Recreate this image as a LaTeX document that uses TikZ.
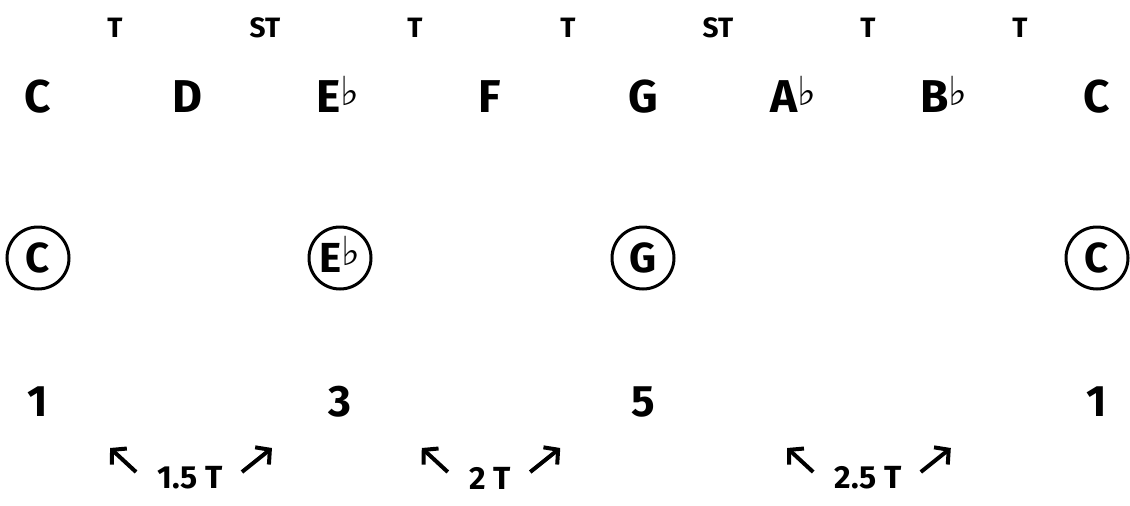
\documentclass[tikz,border=0pt]{standalone}
\usepackage{fontspec}
\setmainfont{Fira Sans}
\newfontfamily\flatfont{DejaVu Sans}
\usetikzlibrary{arrows.meta}
\newcommand{\fl}{\smash{\raisebox{7pt}{\flatfont\fontsize{40}{40}\selectfont ♭}}}

\begin{document}
\begin{tikzpicture}[x=1pt, y=-1pt,
	steplbl/.style={font=\fontsize{28}{28}\selectfont\bfseries},
	note/.style={font=\fontsize{46}{46}\selectfont\bfseries},
	ring/.style={draw, circle, line width=3pt, minimum size=62pt, inner sep=0pt, font=\fontsize{42}{42}\selectfont\bfseries},
	degree/.style={font=\fontsize{44}{44}\selectfont\bfseries},
	gap/.style={font=\fontsize{32}{32}\selectfont\bfseries},
	arr/.style={line width=4pt, -{Straight Barb[length=10pt, width=22pt]}}]
	\useasboundingbox (0,0) rectangle (1130,506);
	% tones and semitones
	\foreach \x/\t [count=\i] in {115/T, 265/ST, 415/T, 568/T, 718/ST, 868/T, 1020/T}
		\node[steplbl] (s\i) at (\x,28) {\t};
	% the scale
	\foreach \x/\n [count=\i] in {38/C, 187/D, 338/E\fl, 490/F, 643/G, 793/A\fl, 944/B\fl, 1097/C}
		\node[note] (n\i) at (\x,97) {\n};
	% the chord
	\foreach \x/\n [count=\i] in {38/C, 340/E\fl, 643/G, 1097/C}
		\node[ring] (c\i) at (\x,258) {\n};
	\foreach \x/\n [count=\i] in {38/1, 340/3, 643/5, 1097/1}
		\node[degree] (d\i) at (\x,402) {\n};
	% intervals
	\node[gap] (g1) at (190,478) {1.5 T};
	\node[gap] (g2) at (490,478) {2 T};
	\node[gap] (g3) at (868,478) {2.5 T};
	\foreach \i in {1,2,3} {
		\draw[arr] ([shift={(-18,-6)}]g\i.west) -- ++(-26,-24);
		\draw[arr] ([shift={(16,-6)}]g\i.east) -- ++(30,-24);
	}
\end{tikzpicture}
\end{document}
